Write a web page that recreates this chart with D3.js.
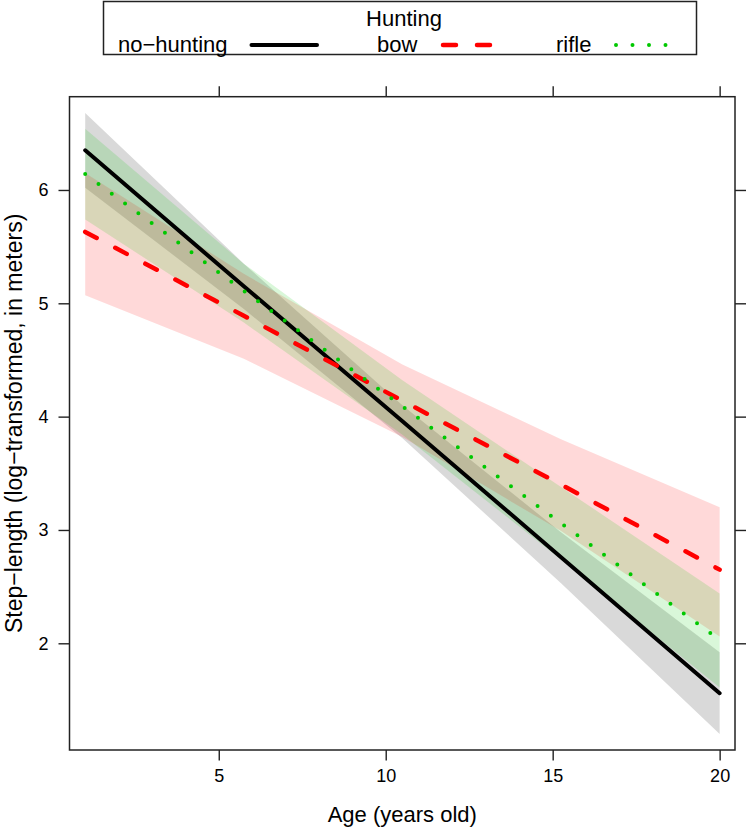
<!DOCTYPE html>
<html>
<head>
<meta charset="utf-8">
<script src="https://cdn.jsdelivr.net/npm/d3@7/dist/d3.min.js"></script>
<style>
  html, body { margin: 0; padding: 0; background: #fff; }
  svg { display: block; }
  text { font-family: "Liberation Sans", Arial, Helvetica, sans-serif; fill: #000; }
</style>
</head>
<body>
<svg id="chart" width="747" height="828"></svg>
<script>
// ---- data ----
const ages = [1, 5.75, 10.5, 15.25, 20];
const groups = ["no\u2212hunting", "bow", "rifle"];
const fitNoHunting = [6.35, 5.15, 3.96, 2.76, 1.56];
const lowerNoHunting = [6.02, 4.95, 3.81, 2.53, 1.20];
const upperNoHunting = [6.68, 5.35, 4.10, 2.98, 1.92];
const fitBow = [5.63, 4.89, 4.14, 3.40, 2.65];
const lowerBow = [5.07, 4.51, 3.82, 2.99, 2.06];
const upperBow = [6.15, 5.26, 4.46, 3.80, 3.20];
const fitRifle = [6.14, 5.11, 4.09, 3.06, 2.03];
const lowerRifle = [5.74, 4.83, 3.84, 2.74, 1.61];
const upperRifle = [6.54, 5.35, 4.32, 3.38, 2.44];
const xTicks = [5, 10, 15, 20];
const yTicks = [2, 3, 4, 5, 6];
const legendTitle = "Hunting";
const xTitle = "Age (years old)";
const yTitle = "Step\u2212length (log\u2212transformed, in meters)";

// ---- styles ----
const colors = ["#000000", "#ff0000", "#00c800"];
const series = [
  {name: groups[0], fit: fitNoHunting, lo: lowerNoHunting, hi: upperNoHunting, color: colors[0], dash: null, width: 4},
  {name: groups[1], fit: fitBow, lo: lowerBow, hi: upperBow, color: colors[1], dash: "13,21", width: 4.5},
  {name: groups[2], fit: fitRifle, lo: lowerRifle, hi: upperRifle, color: colors[2], dash: "0,16.5", width: 4}
];

const P = {left: 69.5, right: 735, top: 96.7, bottom: 750};
const x = d3.scaleLinear().domain([0.53, 20.46]).range([P.left, P.right]);
const y = d3.scaleLinear().domain([1.0585, 6.823]).range([P.bottom, P.top]);

const svg = d3.select("#chart");

// bands and lines
const area = d3.area().x((d, i) => x(ages[i])).y0(d => y(d[0])).y1(d => y(d[1]));
const line = d3.line().x((d, i) => x(ages[i])).y(d => y(d));
const plot = svg.append("g");
series.forEach(s => {
  plot.append("path")
    .datum(s.lo.map((v, i) => [v, s.hi[i]]))
    .attr("d", area)
    .attr("fill", s.color)
    .attr("fill-opacity", 0.15)
    .attr("stroke", "none");
});
series.forEach(s => {
  plot.append("path")
    .datum(s.fit)
    .attr("d", line)
    .attr("fill", "none")
    .attr("stroke", s.color)
    .attr("stroke-width", s.width)
    .attr("stroke-linecap", "round")
    .attr("stroke-dasharray", s.dash);
});

// axes (ticks on all sides, labels bottom/left)
const axisColor = "#222";
function styleAxis(g) {
  g.select(".domain").remove();
  g.selectAll(".tick line").attr("stroke", axisColor).attr("stroke-width", 1.4);
  g.selectAll(".tick text").attr("font-size", 18).attr("font-family", "Liberation Sans, Arial, sans-serif").attr("fill", "#000");
}
svg.append("g").attr("transform", `translate(0,${P.bottom})`)
  .call(d3.axisBottom(x).tickValues(xTicks).tickSize(10.5).tickPadding(9).tickFormat(d3.format("d")))
  .call(styleAxis);
svg.append("g").attr("transform", `translate(0,${P.top})`)
  .call(d3.axisTop(x).tickValues(xTicks).tickSize(10.5).tickFormat(""))
  .call(styleAxis);
svg.append("g").attr("transform", `translate(${P.left},0)`)
  .call(d3.axisLeft(y).tickValues(yTicks).tickSize(11).tickPadding(10).tickFormat(d3.format("d")))
  .call(styleAxis);
svg.append("g").attr("transform", `translate(${P.right},0)`)
  .call(d3.axisRight(y).tickValues(yTicks).tickSize(11).tickFormat(""))
  .call(styleAxis);

// frame
svg.append("rect")
  .attr("x", P.left).attr("y", P.top)
  .attr("width", P.right - P.left).attr("height", P.bottom - P.top)
  .attr("fill", "none").attr("stroke", axisColor).attr("stroke-width", 1.5);

// axis titles
svg.append("text")
  .attr("x", (P.left + P.right) / 2).attr("y", 822)
  .attr("text-anchor", "middle").attr("font-size", 22)
  .text(xTitle);
svg.append("text")
  .attr("transform", `translate(22,${(P.top + P.bottom) / 2}) rotate(-90)`)
  .attr("text-anchor", "middle").attr("font-size", 23)
  .text(yTitle);

// legend
const lg = svg.append("g");
lg.append("rect").attr("x", 103.5).attr("y", 1.5).attr("width", 593).attr("height", 53)
  .attr("fill", "#fff").attr("stroke", axisColor).attr("stroke-width", 1.5);
lg.append("text").attr("x", 404).attr("y", 26).attr("text-anchor", "middle").attr("font-size", 22).text(legendTitle);
const legendItems = [
  {textX: 118, x1: 251.5, x2: 317},
  {textX: 377, x1: 443, x2: 490},
  {textX: 556, x1: 616, x2: 681}
];
series.forEach((s, i) => {
  const it = legendItems[i];
  lg.append("text").attr("x", it.textX).attr("y", 52).attr("font-size", 22).text(s.name);
  lg.append("line").attr("x1", it.x1).attr("x2", it.x2).attr("y1", 45).attr("y2", 45)
    .attr("stroke", s.color).attr("stroke-width", s.width)
    .attr("stroke-linecap", "round").attr("stroke-dasharray", s.dash);
});
</script>
</body>
</html>
